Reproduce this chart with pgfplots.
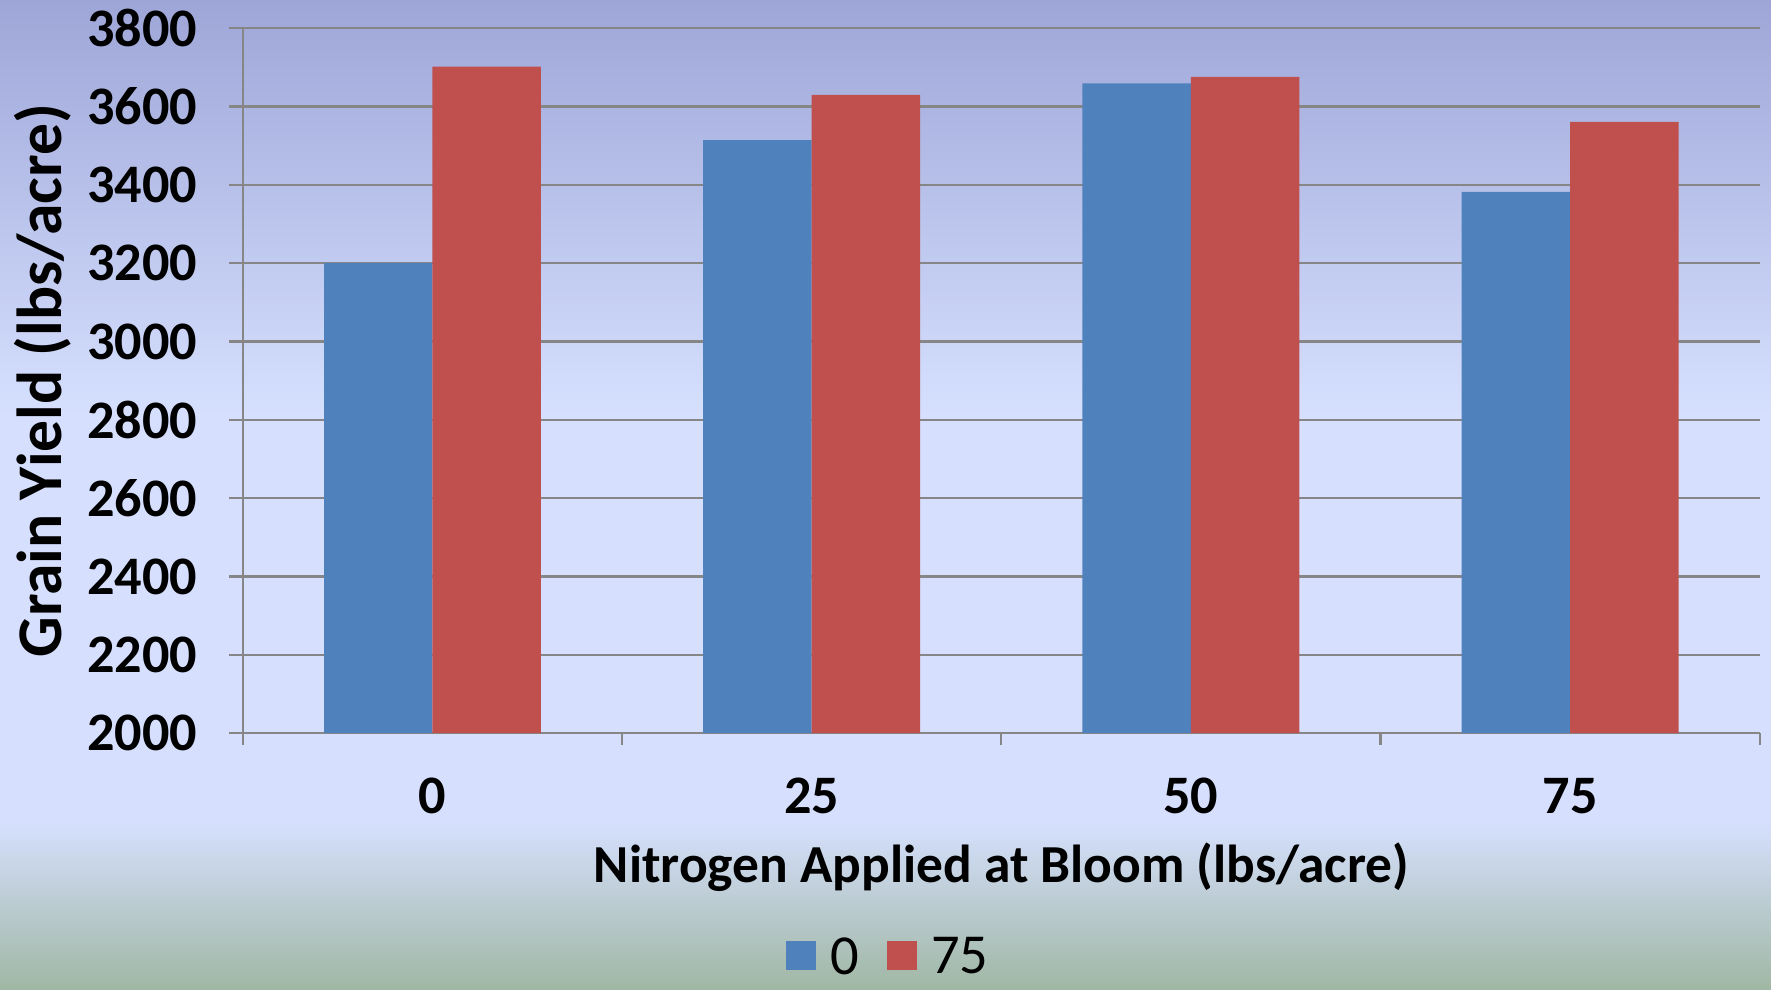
\documentclass[border=0pt]{standalone}
\usepackage{fontspec}
\setmainfont{Carlito}
\usepackage{pgfplots}
\pgfplotsset{compat=1.18}
\definecolor{bgtop}{RGB}{158,166,216}
\definecolor{bgmid}{RGB}{214,224,254}
\definecolor{bgbot}{RGB}{160,183,164}
\definecolor{serA}{RGB}{79,129,189}
\definecolor{serB}{RGB}{192,80,77}
\definecolor{gridc}{RGB}{134,134,134}

\begin{document}
\begin{tikzpicture}
% background gradient
\shade[bottom color=bgbot, top color=bgmid] (0,0) rectangle (470.4pt,44.7pt);
\fill[bgmid] (0,44.6pt) rectangle (470.4pt,152.5pt);
\shade[bottom color=bgmid, top color=bgtop] (0,152.4pt) rectangle (470.4pt,262.8pt);
\begin{axis}[
  at={(64.5pt,68.1pt)}, anchor=south west,
  scale only axis, width=402.9pt, height=187.2pt,
  ybar, bar width=28.8pt,
  xmin=-0.5, xmax=3.5, ymin=2000, ymax=3800,
  xtick={0,1,2,3}, xticklabels={0,25,50,75},
  minor xtick={-0.5,0.5,1.5,2.5,3.5},
  ytick={2000,2200,...,3800},
  scaled y ticks=false,
  /pgf/number format/1000 sep={},
  /pgf/number format/assume math mode=true,
  axis x line*=bottom, axis y line*=left,
  axis line style={gridc, line width=0.6pt},
  tick align=outside,
  every tick/.style={gridc, line width=0.6pt},
  major x tick style={draw=none},
  major tick length=3.6pt, minor tick length=3.3pt,
  ymajorgrids, grid style={gridc, line width=0.6pt},
  ticklabel style={font=\fontsize{14.4}{16}\selectfont\bfseries},
  yticklabel style={xshift=-5pt},
  xticklabel style={yshift=-4.9pt},
  xlabel={Nitrogen Applied at Bloom (lbs/acre)},
  ylabel={Grain Yield (lbs/acre)},
  xlabel style={font=\fontsize{14.2}{17}\selectfont\bfseries,
    at={(axis description cs:0.5,-0.2115)}, anchor=base},
  ylabel style={font=\fontsize{16.9}{19}\selectfont\bfseries,
    at={(axis description cs:-0.132,0.5)}, anchor=center},
  legend style={at={(axis description cs:0.4274,-0.3200)}, anchor=center,
    draw=none, fill=none, legend columns=2,
    font=\fontsize{15}{17}\selectfont,
    /tikz/every odd column/.append style={column sep=1.8pt},
    /tikz/every even column/.append style={column sep=5.6pt}},
  legend image code/.code={\fill[#1] (0pt,-3pt) rectangle (7.8pt,4.8pt);},
]
\addplot[fill=serA, draw=none, bar shift=-14.4pt]
  coordinates {(0,3200) (1,3514) (2,3659) (3,3382)};
\addplot[fill=serB, draw=none, bar shift=14.4pt]
  coordinates {(0,3702) (1,3630) (2,3676) (3,3561)};
\legend{0,75}
\end{axis}
\pgfresetboundingbox
\useasboundingbox (0,0) rectangle (470.4pt,262.8pt);
\end{tikzpicture}
\end{document}
